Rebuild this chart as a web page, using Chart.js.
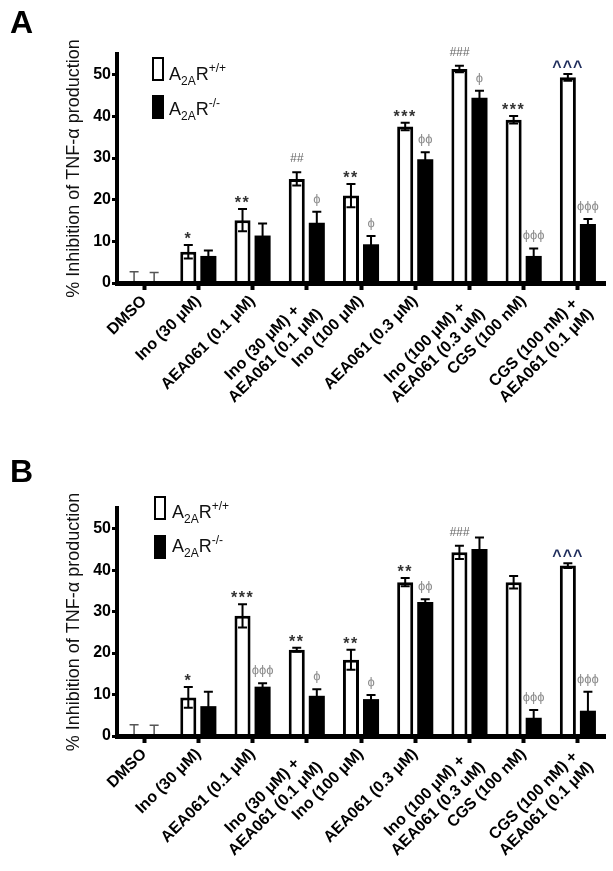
<!DOCTYPE html>
<html><head><meta charset="utf-8">
<script src="https://cdn.jsdelivr.net/npm/chart.js@4.4.1/dist/chart.umd.min.js"></script>
<style>
html,body{margin:0;padding:0;background:#fff;}
body{width:613px;height:871px;position:relative;overflow:hidden;font-family:"Liberation Sans",Arial,sans-serif;}
.panel{position:absolute;left:0;width:613px;height:418px;}
.panel canvas{position:absolute;left:0;top:0;}
.letter{position:absolute;left:10px;font-weight:bold;font-size:32px;line-height:32px;color:#000;}
.lg-box{position:absolute;width:12px;height:24px;box-sizing:border-box;border:2.5px solid #000;background:#fff;}
.lg-box.ko{background:#000;}
.lg-text{position:absolute;font-size:18px;line-height:18px;white-space:nowrap;color:#111;}
.lg-text .sb{font-size:12px;position:relative;top:5px;}
.lg-text .sp{font-size:12px;position:relative;top:-8px;}
</style></head>
<body>
<div class="panel" id="pA" style="top:0px;">
  <canvas id="cA" width="613" height="418"></canvas>
  <div class="letter" style="top:6px;">A</div>
  <div class="lg-box" style="left:152px;top:57px;"></div>
  <div class="lg-text" style="left:169px;top:65px;">A<span class="sb">2A</span>R<span class="sp">+/+</span></div>
  <div class="lg-box ko" style="left:152px;top:95px;"></div>
  <div class="lg-text" style="left:169px;top:100px;">A<span class="sb">2A</span>R<span class="sp">-/-</span></div>
</div>
<div class="panel" id="pB" style="top:453px;">
  <canvas id="cB" width="613" height="418"></canvas>
  <div class="letter" style="top:2px;">B</div>
  <div class="lg-box" style="left:154px;top:43px;"></div>
  <div class="lg-text" style="left:172px;top:50px;">A<span class="sb">2A</span>R<span class="sp">+/+</span></div>
  <div class="lg-box ko" style="left:154px;top:82px;"></div>
  <div class="lg-text" style="left:172px;top:84px;">A<span class="sb">2A</span>R<span class="sp">-/-</span></div>
</div>
<script>
// ---- data ----
const categories = [
  "DMSO",
  "Ino (30 μM)",
  "AEA061 (0.1 μM)",
  ["Ino (30 μM) +", "AEA061 (0.1 μM)"],
  "Ino (100 μM)",
  "AEA061 (0.3 μM)",
  ["Ino (100 μM) +", "AEA061 (0.3 uM)"],
  "CGS (100 nM)",
  ["CGS (100 nM) +", "AEA061 (0.1 μM)"]
];
const seriesNames = ["A2AR+/+", "A2AR-/-"];
const yTickValues = [0, 10, 20, 30, 40, 50];
const yTitle = "% Inhibition of TNF-α production";

// Panel A
const wtA    = [0, 7.5, 15.1, 25.0, 21.0, 37.6, 51.4, 39.2, 49.4];
const wtErrA = [2.7, 1.6, 2.7, 1.6, 2.8, 0.9, 0.8, 0.9, 0.8];
const koA    = [0, 6.5, 11.4, 14.5, 9.3, 29.7, 44.5, 6.5, 14.2];
const koErrA = [2.5, 1.3, 2.9, 2.6, 2.0, 1.7, 1.7, 1.8, 1.2];
const wtSigA = ["", "*", "**", "##", "**", "***", "###", "***", "^^^"];
const koSigA = ["", "", "", "ϕ", "ϕ", "ϕϕ", "ϕ", "ϕϕϕ", "ϕϕϕ"];

// Panel B
const wtB    = [0, 9.3, 29.0, 20.8, 18.4, 37.1, 44.3, 37.1, 41.1];
const wtErrB = [2.7, 2.5, 2.8, 0.5, 2.4, 1.0, 1.6, 1.5, 0.6];
const koB    = [0, 7.2, 11.9, 9.7, 8.9, 32.3, 45.1, 4.4, 6.1];
const koErrB = [2.6, 3.5, 0.8, 1.6, 1.0, 0.7, 2.8, 1.9, 4.6];
const wtSigB = ["", "*", "***", "**", "**", "**", "###", "", "^^^"];
const koSigB = ["", "", "ϕϕϕ", "ϕ", "ϕ", "ϕϕ", "", "ϕϕϕ", "ϕϕϕ"];

// ---- drawing ----
const FAM = '"Liberation Sans", Arial, sans-serif';

function sigStyle(s) {
  if (s.includes('*')) return {font: 'bold 16px ' + FAM, color: '#333', off: 1, ls: '1.5px'};
  if (s.includes('#')) return {font: 'italic 12px ' + FAM, color: '#666', off: 10, ls: '0px'};
  if (s.includes('^')) return {font: 'bold 16px ' + FAM, color: '#1f2d5c', off: 2, ls: '1px'};
  return {font: '13px ' + FAM, color: '#8c8c8c', off: 9, ls: '0px'};
}

const errPlugin = {
  id: 'errbars',
  afterDatasetsDraw(chart) {
    const ctx = chart.ctx;
    const ys = chart.scales.y;
    chart.data.datasets.forEach((ds, d) => {
      const meta = chart.getDatasetMeta(d);
      meta.data.forEach((bar, i) => {
        const v = ds.data[i], e = ds.errors[i];
        const x = bar.x;
        const top = ys.getPixelForValue(v + e);
        const bot = ys.getPixelForValue(Math.max(0, v - e));
        ctx.save();
        ctx.strokeStyle = v === 0 ? '#555' : '#000';
        ctx.lineWidth = v === 0 ? 1.5 : 2;
        ctx.beginPath();
        ctx.moveTo(x, top); ctx.lineTo(x, bot);
        ctx.moveTo(x - 4.5, top); ctx.lineTo(x + 4.5, top);
        if (v - e > 0) { ctx.moveTo(x - 4.5, bot); ctx.lineTo(x + 4.5, bot); }
        ctx.stroke();
        const s = ds.sig[i];
        if (s) {
          const st = sigStyle(s);
          ctx.font = st.font;
          ctx.fillStyle = st.color;
          ctx.textAlign = 'center';
          ctx.textBaseline = 'alphabetic';
          try { ctx.letterSpacing = st.ls; } catch (err) {}
          ctx.fillText(s, x, top - st.off);
        }
        ctx.restore();
      });
    });
  }
};

// category labels, rotated 45°, multi-line blocks centred line by line
const xLabelPlugin = {
  id: 'xlabels',
  afterDraw(chart) {
    const ctx = chart.ctx, xs = chart.scales.x;
    const fs = 16, lh = fs * 1.15;
    ctx.save();
    ctx.font = 'bold ' + fs + 'px ' + FAM;
    ctx.fillStyle = '#000';
    ctx.textBaseline = 'middle';
    ctx.textAlign = 'center';
    chart.data.labels.forEach((lab, i) => {
      const lines = Array.isArray(lab) ? lab : [lab];
      const W = Math.max(...lines.map(l => ctx.measureText(l).width));
      const x = xs.getPixelForTick(i) - lh / 2 * Math.SQRT1_2;
      const y = chart.chartArea.bottom + 9;
      ctx.save();
      ctx.translate(x, y);
      ctx.rotate(-Math.PI / 4);
      lines.forEach((l, k) => ctx.fillText(l, -W / 2, lh / 2 + k * lh));
      ctx.restore();
    });
    ctx.restore();
  }
};

function makeChart(id, wt, wtErr, wtSig, ko, koErr, koSig, padTop) {
  return new Chart(document.getElementById(id), {
    type: 'bar',
    data: {
      labels: categories,
      datasets: [
        {label: seriesNames[0], data: wt, errors: wtErr, sig: wtSig,
         backgroundColor: '#fff', borderColor: '#000', borderWidth: 3, borderSkipped: 'start'},
        {label: seriesNames[1], data: ko, errors: koErr, sig: koSig,
         backgroundColor: '#000', borderColor: '#000', borderWidth: 0}
      ]
    },
    plugins: [errPlugin, xLabelPlugin],
    options: {
      responsive: false,
      animation: false,
      devicePixelRatio: 1,
      barPercentage: 0.8,
      categoryPercentage: 0.74,
      layout: {autoPadding: false, padding: {left: 59, right: 8, top: padTop, bottom: 0}},
      plugins: {legend: {display: false}, tooltip: {enabled: false}},
      scales: {
        x: {
          offset: true,
          afterFit: s => { s.height = 135; s.paddingLeft = 0; s.paddingRight = 0; },
          border: {display: true, width: 5, color: '#000', z: 1},
          grid: {drawOnChartArea: false, offset: false, drawTicks: true, tickLength: 7, tickWidth: 4, tickColor: '#000', z: 1},
          ticks: {display: false, autoSkip: false}
        },
        y: {
          min: 0, max: 55,
          afterBuildTicks: s => { s.ticks = yTickValues.map(v => ({value: v})); },
          afterFit: s => { s.width = 58; s.paddingTop = 0; s.paddingBottom = 0; },
          border: {display: true, width: 4, color: '#000', z: 1},
          grid: {drawOnChartArea: false, drawTicks: true, tickLength: 5, tickWidth: 3, tickColor: '#000', z: 1},
          ticks: {padding: 1, color: '#000', font: {family: FAM, size: 16, weight: 'bold'}},
          title: {display: true, text: yTitle, color: '#111', padding: {top: 4, bottom: 4},
                  font: {family: FAM, size: 18}}
        }
      }
    }
  });
}

makeChart('cA', wtA, wtErrA, wtSigA, koA, koErrA, koSigA, 54);
makeChart('cB', wtB, wtErrB, wtSigB, koB, koErrB, koSigB, 55);
</script>
</body></html>
